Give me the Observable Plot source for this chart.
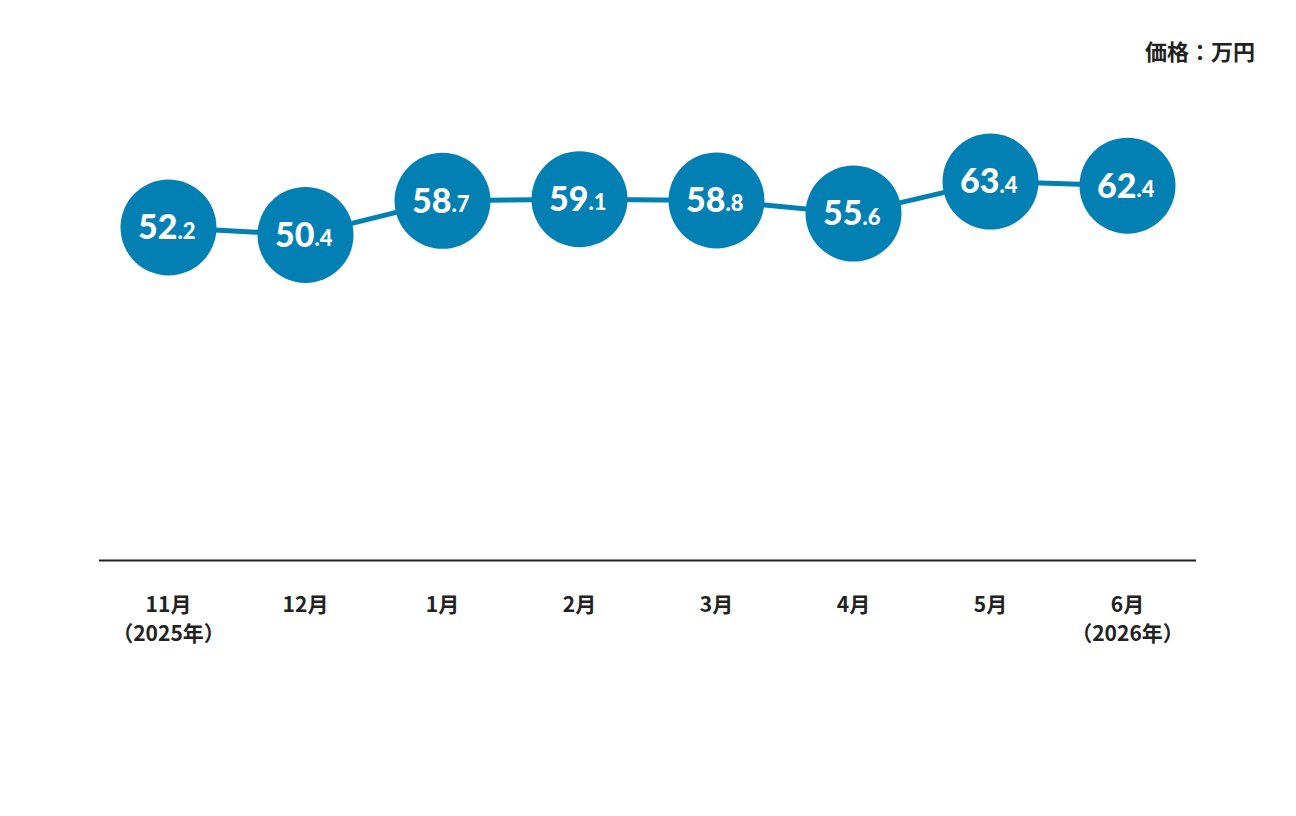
<!DOCTYPE html>
<html>
<head>
<meta charset="utf-8">
<script src="https://cdn.jsdelivr.net/npm/d3@7"></script>
<script src="https://cdn.jsdelivr.net/npm/@observablehq/plot@0.6"></script>
<style>
  html, body { margin: 0; padding: 0; background: #fff; }
  #wrap { position: relative; width: 1296px; height: 816px; }
  #unit { position: absolute; right: 41px; top: 34px; font-family: "Noto Sans CJK JP", sans-serif; font-weight: 700; font-size: 22px; color: #222; }
  #chart { position: absolute; left: 0; top: 0; }
</style>
</head>
<body>
<div id="wrap">
  <div id="chart"></div>
  <div id="unit">価格：万円</div>
</div>
<script>
const months = ["11月\n（2025年）", "12月", "1月", "2月", "3月", "4月", "5月", "6月\n（2026年）"];
const prices = [52.2, 50.4, 58.7, 59.1, 58.8, 55.6, 63.4, 62.4];
const yDomain = [-29, 80];

const data = months.map((m, i) => {
  const [ip, dp] = prices[i].toFixed(1).split(".");
  return {month: m, price: prices[i], ip, dp: "." + dp};
});

const blue = "#0280b3";

const chart = Plot.plot({
  width: 1296,
  height: 816,
  marginLeft: 99,
  marginRight: 100,
  marginTop: 113,
  marginBottom: 256,
  style: {fontFamily: "'Noto Sans CJK JP', sans-serif", background: "#fff"},
  x: {type: "point", domain: months, padding: 0.5, label: null},
  y: {domain: yDomain, axis: null},
  marks: [
    Plot.ruleY([yDomain[0]], {stroke: "#222", strokeWidth: 2}),
    Plot.axisX({tickSize: 0, tickPadding: 31, fontSize: 21, fontWeight: 700, lineHeight: 1.38, fill: "#222", label: null}),
    Plot.line(data, {x: "month", y: "price", stroke: blue, strokeWidth: 5}),
    Plot.dot(data, {x: "month", y: "price", r: 48, fill: blue, stroke: "none"}),
    Plot.text(data, {x: "month", y: "price", text: "ip", textAnchor: "end", dx: 9, dy: 1, fontSize: 34, fontWeight: 900, fill: "#fff", fontFamily: "Lato, 'Open Sans', sans-serif"}),
    Plot.text(data, {x: "month", y: "price", text: "dp", textAnchor: "start", dx: 9, dy: 4, fontSize: 22, fontWeight: 900, fill: "#fff", fontFamily: "Lato, 'Open Sans', sans-serif"})
  ]
});
document.getElementById("chart").appendChild(chart);
</script>
</body>
</html>
